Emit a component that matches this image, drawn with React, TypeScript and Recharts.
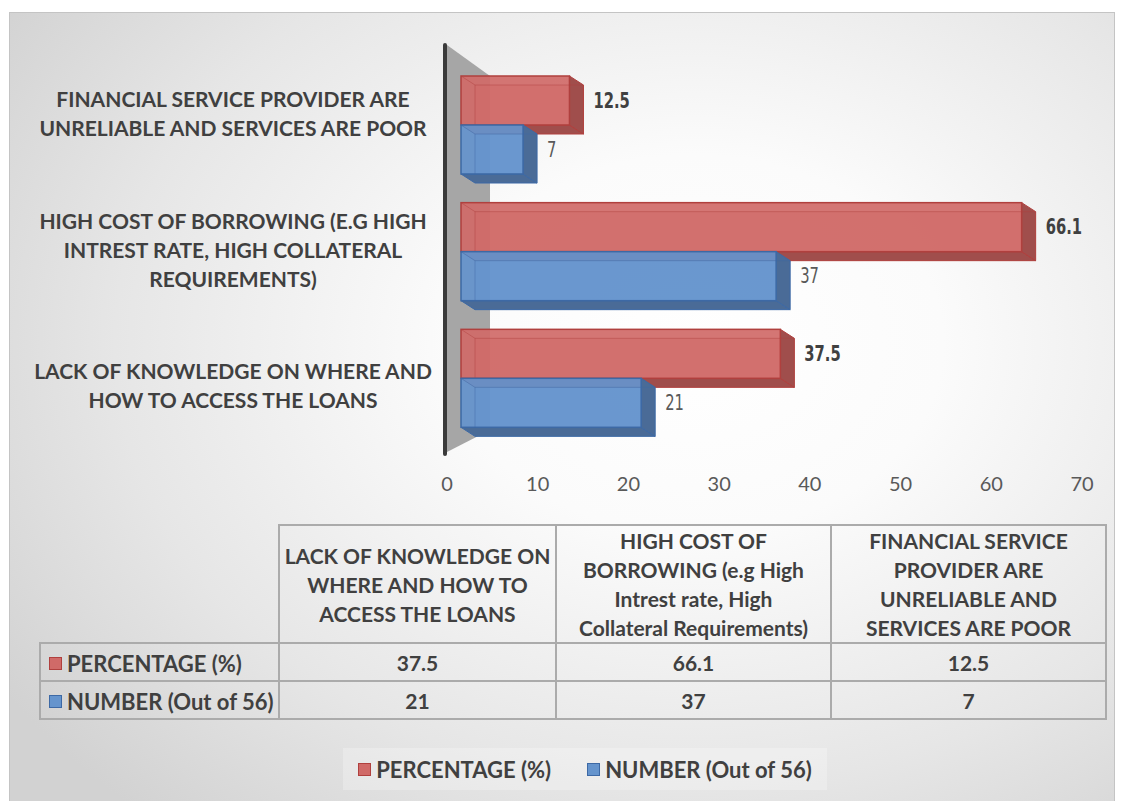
import React from 'react';
import { BarChart, Bar, XAxis, YAxis, ReferenceArea, LabelList, Legend } from 'recharts';

// categories in table order (Excel draws the first one at the bottom of the chart)
const CATEGORIES = [
  'LACK OF KNOWLEDGE ON WHERE AND HOW TO ACCESS THE LOANS',
  'HIGH COST OF BORROWING (e.g High Intrest rate, High Collateral Requirements)',
  'FINANCIAL SERVICE PROVIDER ARE UNRELIABLE AND SERVICES ARE POOR',
];

// how the names wrap on the left of the chart
const AXIS_LABEL_LINES = [
  ['LACK OF KNOWLEDGE ON WHERE AND', 'HOW TO ACCESS THE LOANS'],
  ['HIGH COST OF BORROWING (E.G HIGH', 'INTREST RATE, HIGH COLLATERAL', 'REQUIREMENTS)'],
  ['FINANCIAL SERVICE PROVIDER ARE', 'UNRELIABLE AND SERVICES ARE POOR'],
];

// how the names wrap in the data table header
const TABLE_HEADER_LINES = [
  ['LACK OF KNOWLEDGE ON', 'WHERE AND HOW TO', 'ACCESS THE LOANS'],
  ['HIGH COST OF', 'BORROWING (e.g High', 'Intrest rate, High', 'Collateral Requirements)'],
  ['FINANCIAL SERVICE', 'PROVIDER ARE', 'UNRELIABLE AND', 'SERVICES ARE POOR'],
];

const PERCENTAGE = [37.5, 66.1, 12.5];
const NUMBER = [21, 37, 7];
const X_TICKS = [0, 10, 20, 30, 40, 50, 60, 70];

const SERIES = [
  {
    key: 'percentage',
    name: 'PERCENTAGE (%)',
    values: PERCENTAGE,
    front: '#d06a68',
    side: '#a04e4c',
    edge: '#b0403e',
    labelWeight: 700,
    labelColor: '#404040',
  },
  {
    key: 'number',
    name: 'NUMBER (Out of 56)',
    values: NUMBER,
    front: '#6594cd',
    side: '#4a6b97',
    edge: '#3d69a5',
    labelWeight: 400,
    labelColor: '#595959',
  },
];

const chartData = CATEGORIES.map((c, i) => ({
  category: c,
  percentage: PERCENTAGE[i],
  number: NUMBER[i],
}));

const BOX_W = 1104;
const BOX_H = 788;
const FONT = 'Lato, "Open Sans", sans-serif';
const TEXT = '#404040';

// 3D projection: bars sit behind the axis plane, so they start a bit
// further right and grow a bit slower than the axis ticks
const DEPTH_X = 14;
const DEPTH_Y = 9;
const BAR_START = 31;
const BAR_SCALE = 0.93;

const backRight = (x: number, width: number) => x + BAR_START + width * BAR_SCALE;

// grey back wall + vertical axis of the 3D plot
function WallShape(props: any) {
  const { x, y, height } = props;
  const depth = 43;
  const top = y - 17;
  const bottom = y + height + 10;
  return (
    <g>
      <polygon
        points={`${x},${top} ${x + depth},${y + 14} ${x + depth},${y + height - 12} ${x},${bottom}`}
        fill="#a6a6a6"
      />
      <line x1={x - 2} y1={top} x2={x - 2} y2={bottom + 2} stroke="#3a3a3a" strokeWidth={4} strokeLinecap="round" />
    </g>
  );
}

// translucent 3D box drawn from the bar rect
function boxShape(s: (typeof SERIES)[number]) {
  return (props: any) => {
    const { x, y, width, height } = props;
    if (!width || width <= 0) return <g />;
    const dx = DEPTH_X;
    const dy = DEPTH_Y;
    const fl = x + 14;
    const fr = Math.max(backRight(x, width) - dx, fl + 2);
    const fw = fr - fl;
    return (
      <g>
        <rect x={fl + dx} y={y + dy} width={fw} height={height} fill={s.front} opacity={0.55} />
        <polygon
          points={`${fl},${y + height} ${fr},${y + height} ${fr + dx},${y + height + dy} ${fl + dx},${y + height + dy}`}
          fill={s.side}
          stroke={s.edge}
          strokeWidth={1}
        />
        <polygon
          points={`${fr},${y} ${fr + dx},${y + dy} ${fr + dx},${y + height + dy} ${fr},${y + height}`}
          fill={s.side}
          stroke={s.edge}
          strokeWidth={1}
        />
        <rect x={fl} y={y} width={fw} height={height} fill={s.front} fillOpacity={0.92} stroke={s.edge} strokeWidth={1.5} />
        <path
          d={`M${fl},${y} L${fl + dx},${y + dy} L${fr + dx},${y + dy} M${fl + dx},${y + dy} L${fl + dx},${y + height}`}
          stroke={s.edge}
          strokeOpacity={0.45}
          fill="none"
        />
      </g>
    );
  };
}

function valueLabel(s: (typeof SERIES)[number]) {
  return (props: any) => {
    const { x, y, width, height, value } = props;
    const tx = backRight(x, width) + 10;
    const ty = y + height / 2;
    return (
      <text
        transform={`translate(${tx},${ty}) scale(0.78,1)`}
        x={0}
        y={0}
        dominantBaseline="central"
        fontFamily='"DejaVu Sans Condensed", "DejaVu Sans", sans-serif'
        fontSize={21}
        fontWeight={s.labelWeight}
        fill={s.labelColor}
      >
        {value}
      </text>
    );
  };
}

function CategoryTick(props: any) {
  const { x, y, payload } = props;
  const idx = CATEGORIES.indexOf(payload.value);
  const lines = AXIS_LABEL_LINES[idx] || [payload.value];
  // the 3D projection spreads the labels a little more than the bars
  const cy = y + (1 - idx) * 9 - 3;
  const cx = x - 214;
  const lh = 29;
  return (
    <text textAnchor="middle" fontFamily={FONT} fontWeight={700} fontSize={21} fill={TEXT}>
      {lines.map((l, i) => (
        <tspan key={i} x={cx} y={cy - ((lines.length - 1) * lh) / 2 + i * lh} dominantBaseline="central">
          {l}
        </tspan>
      ))}
    </text>
  );
}

function Swatch({ s }: { s: (typeof SERIES)[number] }) {
  return (
    <span
      style={{
        display: 'inline-block',
        width: 11,
        height: 11,
        background: s.front,
        border: `1px solid ${s.edge}`,
        marginRight: 5,
      }}
    />
  );
}

const renderLegend = () => (
  <div
    style={{
      width: 484,
      height: 42,
      background: 'rgba(255,255,255,0.25)',
      display: 'flex',
      alignItems: 'center',
      justifyContent: 'center',
      gap: 36,
      fontFamily: FONT,
      fontWeight: 700,
      fontSize: 22,
      color: TEXT,
    }}
  >
    {SERIES.map((s) => (
      <span key={s.key} style={{ display: 'flex', alignItems: 'center' }}>
        <Swatch s={s} />
        {s.name}
      </span>
    ))}
  </div>
);

const cell: React.CSSProperties = {
  border: '2px solid #ababab',
  textAlign: 'center',
  padding: 0,
  lineHeight: '29px',
};

function DataTable() {
  return (
    <table
      style={{
        position: 'absolute',
        left: 29,
        top: 511,
        width: 1066,
        tableLayout: 'fixed',
        borderCollapse: 'collapse',
        fontFamily: FONT,
        fontWeight: 700,
        fontSize: 21,
        color: TEXT,
      }}
    >
      <colgroup>
        <col style={{ width: 239 }} />
        <col style={{ width: 277 }} />
        <col style={{ width: 275 }} />
        <col style={{ width: 275 }} />
      </colgroup>
      <tbody>
        <tr style={{ height: 118 }}>
          <td style={{ border: 'none' }} />
          {TABLE_HEADER_LINES.map((lines, i) => (
            <td key={i} style={cell}>
              {lines.map((l, j) => (
                <div key={j}>{l}</div>
              ))}
            </td>
          ))}
        </tr>
        {SERIES.map((s) => (
          <tr key={s.key} style={{ height: 38 }}>
            <td style={{ ...cell, textAlign: 'left', paddingLeft: 8, whiteSpace: 'nowrap', fontSize: 22 }}>
              <span style={{ display: 'inline-flex', alignItems: 'center' }}>
                <Swatch s={s} />
                {s.name}
              </span>
            </td>
            {s.values.map((v, i) => (
              <td key={i} style={cell}>
                {v}
              </td>
            ))}
          </tr>
        ))}
      </tbody>
    </table>
  );
}

export default function App() {
  return (
    <>
      <style>{'html,body{margin:0;overflow:hidden;}'}</style>
      <div
        style={{
          position: 'absolute',
          left: 9,
          top: 12,
          width: BOX_W,
          height: BOX_H,
          border: '1px solid #c4c4c4',
          background:
            'radial-gradient(ellipse 75% 80% at 62% 42%, #ffffff 0%, #fbfbfb 30%, #e6e6e6 70%, #d2d2d2 100%)',
          overflow: 'hidden',
        }}
      >
        <BarChart
          width={BOX_W}
          height={BOX_H}
          layout="vertical"
          data={chartData}
          margin={{ top: 49, right: 32, bottom: 299, left: 0 }}
          barSize={49}
          barGap={0}
        >
          <XAxis
            type="number"
            domain={[0, 70]}
            ticks={X_TICKS}
            axisLine={false}
            tickLine={false}
            tickSize={0}
            tickMargin={35}
            height={60}
            tick={{ fontFamily: FONT, fontSize: 20, fill: '#595959' }}
          />
          <YAxis
            type="category"
            dataKey="category"
            reversed
            width={437}
            axisLine={false}
            tickLine={false}
            tickSize={0}
            tickMargin={0}
            tick={<CategoryTick />}
          />
          <ReferenceArea x1={0} x2={70} shape={WallShape} />
          {SERIES.map((s) => (
            <Bar
              key={s.key}
              dataKey={s.key}
              name={s.name}
              fill={s.front}
              shape={boxShape(s)}
              isAnimationActive={false}
            >
              <LabelList dataKey={s.key} content={valueLabel(s)} />
            </Bar>
          ))}
          <Legend
            verticalAlign="middle"
            align="center"
            layout="horizontal"
            wrapperStyle={{ top: 735, left: 333, width: 484, height: 42 }}
            content={renderLegend}
          />
        </BarChart>
        <DataTable />
      </div>
    </>
  );
}
